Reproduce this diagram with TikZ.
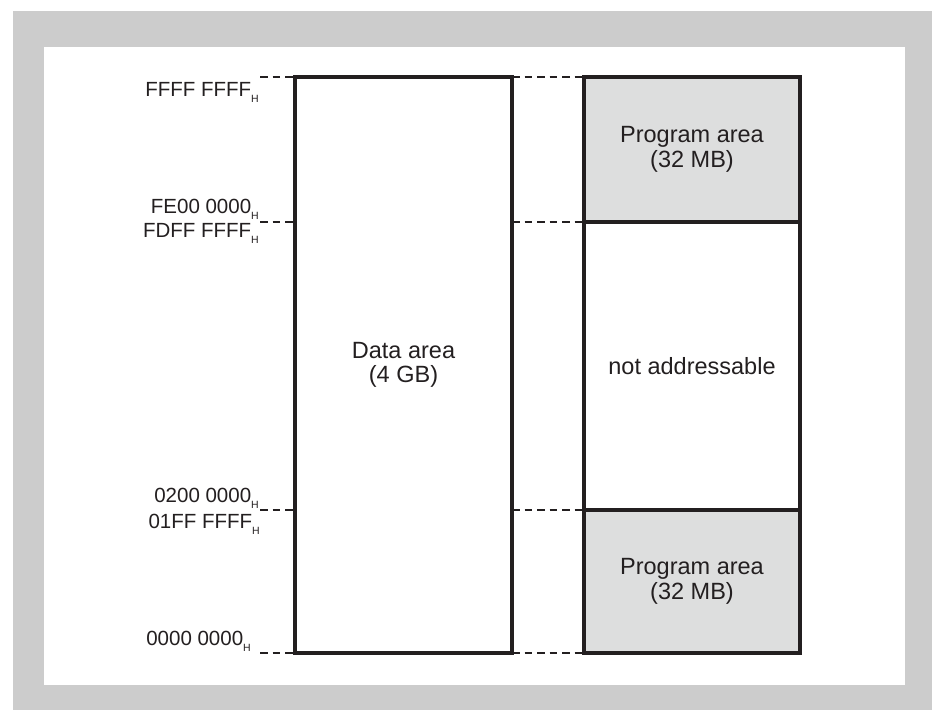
\documentclass[tikz,border=0pt]{standalone}
\usepackage{fontspec}
\setmainfont{Liberation Sans}
\usepackage{xcolor}
\usepackage{tikz}
\usetikzlibrary{positioning, calc}
\definecolor{framegray}{RGB}{204, 204, 204}
\definecolor{areagray}{RGB}{221, 222, 222}
\definecolor{inkdark}{RGB}{35, 31, 32}
\newcommand{\hexaddr}[1]{#1\raisebox{-6pt}{\fontsize{10.5}{10.5}\selectfont H}}

\begin{document}
\begin{tikzpicture}[x=1pt, y=-1pt,
    memblock/.style={draw=inkdark, line width=3.3pt, fill=white, outer sep=0pt, inner sep=0pt, align=center, text=inkdark, font=\fontsize{23.5}{24.5}\selectfont},
    progblock/.style={memblock, fill=areagray},
    addr/.style={anchor=base east, inner sep=0pt, text=inkdark, font=\fontsize{20.5}{22}\selectfont},
    guide/.style={draw=inkdark, line width=2pt, dash pattern=on 7.5pt off 5pt}]
  \useasboundingbox (0,0) rectangle (932,710);
  \fill[framegray] (13,11) rectangle (932,710);
  \fill[white] (44,47) rectangle (905,685);

  % address labels
  \node[addr] (aFFFF) at (259,96) {\hexaddr{FFFF FFFF}};
  \node[addr] (aFE00) at (259,213) {\hexaddr{FE00 0000}};
  \node[addr] (aFDFF) at (259,237) {\hexaddr{FDFF FFFF}};
  \node[addr] (a0200) at (259,502) {\hexaddr{0200 0000}};
  \node[addr] (a01FF) at (260,528) {\hexaddr{01FF FFFF}};
  \node[addr] (a0000) at (251,645) {\hexaddr{0000 0000}};
  \coordinate (m0) at (260,77);
  \coordinate (m1) at (260,222);
  \coordinate (m2) at (260,510);
  \coordinate (m3) at (260,653);

  % memory blocks
  \node[memblock, minimum width=217pt, minimum height=576pt] (data) at (403.5,365) {Data area\\(4 GB)};
  \node[progblock, minimum width=216pt, minimum height=145pt] (progtop) at (692,149.5) {Program area\\(32 MB)};
  \node[memblock, minimum width=216pt, minimum height=288pt, below=0pt of progtop] (noaddr) {not addressable};
  \node[progblock, minimum width=216pt, minimum height=143pt, below=0pt of noaddr] (progbot) {Program area\\(32 MB)};

  % boundaries
  \draw[guide] (m0) -- (m0 -| data.west);
  \draw[guide] (m1) -- (m1 -| data.west);
  \draw[guide] (m2) -- (m2 -| data.west);
  \draw[guide] (m3) -- (m3 -| data.west);
  \draw[guide] (data.north east) -- (progtop.north west);
  \draw[guide] (m1 -| data.east) -- (noaddr.north west);
  \draw[guide] (m2 -| data.east) -- (progbot.north west);
  \draw[guide] (data.south east) -- (progbot.south west);
\end{tikzpicture}
\end{document}
